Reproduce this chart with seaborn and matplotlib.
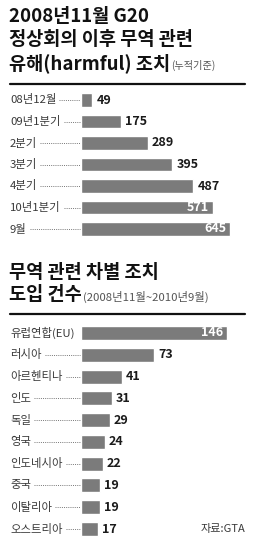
import matplotlib
matplotlib.use("Agg")
import matplotlib.pyplot as plt
import seaborn as sns
import pandas as pd
from matplotlib.lines import Line2D
import matplotlib.transforms as mtransforms

# ---- data ----
harm_labels = ["08년12월", "09년1분기", "2분기", "3분기", "4분기", "10년1분기", "9월"]
harm_values = [49, 175, 289, 395, 487, 571, 645]

disc_labels = ["유럽연합(EU)", "러시아", "아르헨티나", "인도", "독일", "영국",
               "인도네시아", "중국", "이탈리아", "오스트리아"]
disc_values = [146, 73, 41, 31, 29, 24, 22, 19, 19, 17]

title1 = ["2008년11월 G20", "정상회의 이후 무역 관련", "유해(harmful) 조치"]
title1_note = "(누적기준)"
title2 = ["무역 관련 차별 조치", "도입 건수"]
title2_note = "(2008년11월~2010년9월)"
source = "자료:GTA"

sns.set_style("white")
plt.rcParams['font.family'] = ['Noto Sans CJK KR', 'DejaVu Sans']

W, H = 262, 560
fig = plt.figure(figsize=(W / 100, H / 100), dpi=100)
fig.patch.set_facecolor("white")

BAR = "#7b7b7b"
LAB = "#3a3a3a"


def fx(px):
    return px / W


def fy(py):
    return 1 - py / H


def make_ax(top, bottom):
    return fig.add_axes([fx(81), fy(bottom), fx(245) - fx(81), (bottom - top) / H])


ax1 = make_ax(89.25, 239.75)
ax2 = make_ax(322.1, 539.9)

df1 = pd.DataFrame({"cat": harm_labels, "val": harm_values})
df2 = pd.DataFrame({"cat": disc_labels, "val": disc_values})

sns.barplot(data=df1, x="val", y="cat", orient="h", color=BAR, saturation=1,
            width=0.65, ax=ax1)
sns.barplot(data=df2, x="val", y="cat", orient="h", color=BAR, saturation=1,
            width=0.64, ax=ax2)

ax1.set_xlim(0, 164 / 0.231)
ax2.set_xlim(0, 164 / 1.0)
ax1.set_ylim(len(harm_values) - 0.5, -0.5)
ax2.set_ylim(len(disc_values) - 0.5, -0.5)

for ax in (ax1, ax2):
    ax.axis("off")

inside1 = {571, 645}
inside2 = {146}


def annotate(ax, labels, values, inside):
    xmax = ax.get_xlim()[1]
    pad = xmax * 4 / 164
    lab_texts = []
    trans = mtransforms.blended_transform_factory(fig.transFigure, ax.transData)
    for i, (lab, v) in enumerate(zip(labels, values)):
        if v in inside:
            ax.text(v - pad * 0.9, i, str(v), ha="right", va="center",
                    color="white", fontsize=9, fontweight="semibold")
        else:
            ax.text(v + pad, i, str(v), ha="left", va="center",
                    color="#1a1a1a", fontsize=9, fontweight="semibold")
        t = fig.text(fx(10), 0, lab, transform=trans, ha="left", va="center",
                     color=LAB, fontsize=8.2)
        t.set_position((fx(10), i))
        lab_texts.append(t)
    return lab_texts


texts1 = annotate(ax1, harm_labels, harm_values, inside1)
texts2 = annotate(ax2, disc_labels, disc_values, inside2)

# titles
for k, line in enumerate(title1):
    t = fig.text(fx(9), fy(16 + 23.5 * k), line, ha="left", va="center",
                 fontsize=13.4, fontweight="bold", color="#111111")
t_last1 = t
for k, line in enumerate(title2):
    t = fig.text(fx(9), fy(272 + 23 * k), line, ha="left", va="center",
                 fontsize=13.4, fontweight="bold", color="#111111")
t_last2 = t

fig.add_artist(Line2D([fx(10), fx(245)], [fy(84), fy(84)], color="#111111",
                      lw=1.6, transform=fig.transFigure))
fig.add_artist(Line2D([fx(10), fx(245)], [fy(314), fy(314)], color="#111111",
                      lw=1.6, transform=fig.transFigure))

fig.text(fx(245), fy(529), source, ha="right", va="center", fontsize=8,
         color=LAB)

fig.canvas.draw()
r = fig.canvas.get_renderer()

bb = t_last1.get_window_extent(r)
fig.text((bb.x1 + 1) / W, fy(65), title1_note, ha="left", va="center",
         fontsize=7.3, color="#555555")
bb = t_last2.get_window_extent(r)
fig.text((bb.x1 + 1) / W, fy(297), title2_note, ha="left", va="center",
         fontsize=8.2, color="#555555")

for ax, texts in ((ax1, texts1), (ax2, texts2)):
    for i, t in enumerate(texts):
        bb = t.get_window_extent(r)
        x0 = bb.x1 + 3
        x1 = 80
        if x1 - x0 < 4:
            continue
        ydisp = ax.transData.transform((0, i))[1]
        fig.add_artist(Line2D([x0 / W, x1 / W], [ydisp / H, ydisp / H],
                              color="#777777", lw=0.7, linestyle=(0, (1, 1.2)),
                              transform=fig.transFigure))

fig.savefig("out.png", dpi=100, facecolor="white")
